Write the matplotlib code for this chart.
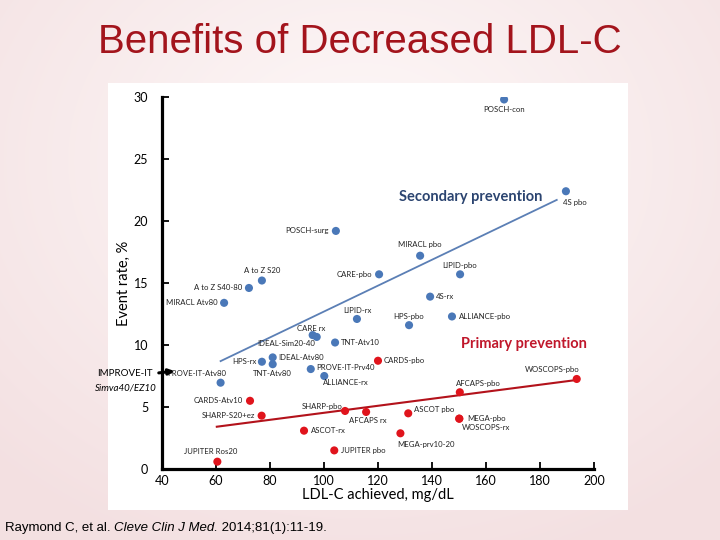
import numpy as np
import matplotlib
matplotlib.use("Agg")
import matplotlib.pyplot as plt
from matplotlib.patches import Rectangle

# --- data (LDL-C achieved mg/dL, event rate %)
blue_names = ["POSCH-con", "4S pbo", "POSCH-surg", "MIRACL pbo", "LIPID-pbo",
              "CARE-pbo", "A to Z S20", "A to Z S40-80", "MIRACL Atv80", "4S-rx",
              "LIPID-rx", "HPS-pbo", "ALLIANCE-pbo", "CARE rx", "IDEAL-Sim20-40",
              "TNT-Atv10", "IDEAL-Atv80", "HPS-rx", "TNT-Atv80", "PROVE-IT-Prv40",
              "ALLIANCE-rx", "PROVE-IT-Atv80"]
blue_ldl = [166.7, 189.6, 104.4, 135.6, 150.4, 120.4, 77.0, 72.2, 63.0, 139.3,
            112.2, 131.5, 147.4, 95.8, 97.3, 104.1, 81.0, 77.0, 81.0, 95.1,
            100.1, 61.7]
blue_rate = [29.8, 22.4, 19.2, 17.2, 15.7, 15.7, 15.2, 14.6, 13.4, 13.9,
             12.1, 11.6, 12.3, 10.8, 10.65, 10.2, 9.0, 8.65, 8.45, 8.06,
             7.5, 6.96]

red_names = ["WOSCOPS-pbo", "AFCAPS-pbo", "CARDS-pbo", "ASCOT pbo", "MEGA-pbo",
             "WOSCOPS-rx", "MEGA-prv10-20", "AFCAPS rx", "SHARP-pbo", "JUPITER pbo",
             "ASCOT-rx", "SHARP-S20+ez", "CARDS-Atv10", "JUPITER Ros20"]
red_ldl = [193.6, 150.3, 120.0, 131.2, 150.1, 150.1, 128.3, 115.6, 107.8, 103.8,
           92.6, 76.9, 72.6, 60.5]
red_rate = [7.26, 6.19, 8.73, 4.49, 4.06, 4.06, 2.88, 4.6, 4.68, 1.5,
            3.09, 4.3, 5.5, 0.59]

# fitted trend lines (end points)
blue_fit_x = [61.7, 186.2]
blue_fit_y = [8.7, 21.7]
red_fit_x = [60.3, 193.6]
red_fit_y = [3.41, 7.18]

# label placement: (dx pt, dy pt, ha)
blue_pos = [(0, -7, "center"), (-2, -8, "left"), (-5, 0, "right"), (0, 8, "center"),
            (0, 6.5, "center"), (-5, 0, "right"), (0, 7, "center"), (-5, 0, "right"),
            (-5, 0, "right"), (4, 0, "left"), (0, 6, "center"), (0, 6.5, "center"),
            (5, 0, "left"), (-1, 5, "center"), (-1.5, -4.5, "right"), (4, 0, "left"),
            (4, 0, "left"), (-4, 0, "right"), (0, -7, "center"), (4, 1, "left"),
            (-1, -4.5, "left"), (4, 6.5, "right")]
red_pos = [(2, 6.5, "right"), (-3, 6.5, "left"), (4, 0, "left"), (4, 3, "left"),
           (6, 0, "left"), (2, -6.5, "left"), (-2, -8, "left"), (1, -6.5, "center"),
           (-2, 3, "right"), (5, 0, "left"), (5, 0, "left"), (-5, 0, "right"),
           (-5, 0, "right"), (-5, 7, "center")]

blue = "#4a78b8"
red = "#e0141c"
font = "Lato"

fig = plt.figure(figsize=(7.2, 5.4), dpi=100)

# --- slide background
bg = fig.add_axes([0, 0, 1, 1], zorder=-10)
yy, xx = np.mgrid[0:540, 0:720]
d = np.sqrt(((xx - 360) / 520.0) ** 2 + ((yy - 160) / 420.0) ** 2)
d = np.clip(d, 0, 1)
c0 = np.array([0.995, 0.975, 0.975])
c1 = np.array([0.955, 0.880, 0.885])
img = c0 + (c1 - c0) * d[..., None]
bg.imshow(img, aspect="auto", extent=[0, 1, 0, 1], origin="upper")
bg.axis("off")
bg.add_patch(Rectangle((108 / 720, 1 - 510 / 540), 520 / 720, 427 / 540,
                       transform=fig.transFigure, facecolor="white",
                       edgecolor="none", zorder=2))

fig.text(0.5, 1 - 42 / 540, "Benefits of Decreased LDL-C", ha="center", va="center",
         fontsize=29, color="#a3141c", family="Liberation Sans")

# --- chart
ax = fig.add_axes([162 / 720, 1 - 469 / 540, 432 / 720, 372 / 540])
ax.patch.set_alpha(0)
ax.set_xlim(40, 200)
ax.set_ylim(0, 30)
ax.set_xticks(range(40, 201, 20))
ax.set_yticks(range(0, 31, 5))
for s in ["top", "right"]:
    ax.spines[s].set_visible(False)
for s in ["left", "bottom"]:
    ax.spines[s].set_linewidth(2.3)
ax.tick_params(direction="in", length=5, width=1.3, labelsize=9)
ax.tick_params(axis="y", pad=10)
ax.tick_params(axis="x", pad=4)
for lab in ax.get_xticklabels() + ax.get_yticklabels():
    lab.set_family(font)
ax.set_xlabel("LDL-C achieved, mg/dL", fontsize=10.5, family=font, labelpad=1)
ax.set_ylabel("Event rate, %", fontsize=10.5, family=font, labelpad=2)

ax.plot(blue_fit_x, blue_fit_y, color="#5b7fb5", lw=1.3, zorder=2)
ax.plot(red_fit_x, red_fit_y, color="#b3121b", lw=1.5, zorder=2)
ax.scatter(blue_ldl, blue_rate, s=34, color=blue, zorder=3, edgecolors="none")
ax.scatter(red_ldl, red_rate, s=34, color=red, zorder=3, edgecolors="none")

for names, xs, ys, pos in [(blue_names, blue_ldl, blue_rate, blue_pos),
                           (red_names, red_ldl, red_rate, red_pos)]:
    for n, x, y, (dx, dy, ha) in zip(names, xs, ys, pos):
        ax.annotate(n, (x, y), xytext=(dx, dy), textcoords="offset points",
                    ha=ha, va="center", fontsize=5.6, family=font, color="#222222")

ax.text(154.4, 21.9, "Secondary prevention", ha="center", va="center",
        fontsize=10.5, fontweight="bold", family=font, color="#2b4470")
ax.text(174.1, 10.08, "Primary prevention", ha="center", va="center",
        fontsize=10.5, fontweight="bold", family=font, color="#c0172b")

# IMPROVE-IT call-out
fig.text(97 / 720, 1 - 374 / 540, "IMPROVE-IT", ha="left", va="center",
         fontsize=7, family=font)
fig.text(95 / 720, 1 - 388 / 540, "Simva40/EZ10", ha="left", va="center",
         fontsize=7, family=font, style="italic")
ax.annotate("", xy=(44.6, 7.9), xytext=(38.8, 7.75), annotation_clip=False,
            arrowprops=dict(arrowstyle="-|>", color="black", lw=2.2,
                            mutation_scale=8, shrinkA=0, shrinkB=0))

# --- citation with italic journal name
parts = [("Raymond C, et al. ", "normal"), ("Cleve Clin J Med.", "italic"),
         (" 2014;81(1):11-19.", "normal")]
fig.canvas.draw()
r = fig.canvas.get_renderer()
x = 5
for txt, st in parts:
    t = fig.text(x / 720, 1 - 528 / 540, txt, ha="left", va="center",
                 fontsize=9.5, family="Liberation Sans", style=st)
    x += t.get_window_extent(r).width

fig.savefig("out.png", dpi=100)
